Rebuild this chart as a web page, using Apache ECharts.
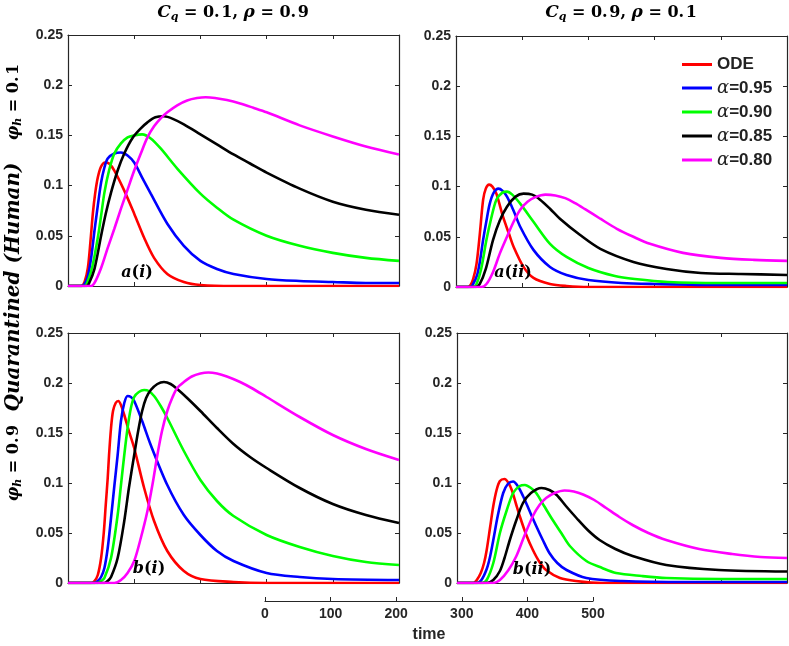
<!DOCTYPE html>
<html><head><meta charset="utf-8">
<script src="https://cdn.jsdelivr.net/npm/echarts@6/dist/echarts.min.js"></script>
<style>html,body{margin:0;padding:0;background:#fff}#c{width:789px;height:646px}</style>
</head><body><div id="c"></div>
<script>
// ---------- data (time, value) ----------
const seriesNames = ['ODE', 'α=0.95', 'α=0.90', 'α=0.85', 'α=0.80'];
const timeTicks = [0, 100, 200, 300, 400, 500];

// a(i): C_q=0.1, rho=0.9, phi_h=0.1
const ai_ode = [[0,0],[20,0],[25,0.004],[30,0.018],[34,0.045],[37.5,0.072],[41,0.092],[45,0.108],[50,0.119],[56,0.123],[62,0.122],[70,0.115],[85,0.095],[100,0.072],[115,0.048],[130,0.028],[150,0.012],[175,0.004],[200,0.001],[250,0],[500,0]];
const ai_095 = [[0,0],[20,0],[25,0.002],[30,0.01],[35,0.028],[40,0.055],[45,0.08],[50,0.103],[55,0.118],[60,0.127],[70,0.132],[80,0.133],[90,0.13],[100,0.123],[112,0.108],[125,0.092],[150,0.062],[175,0.04],[200,0.025],[225,0.017],[250,0.012],[300,0.007],[350,0.005],[400,0.004],[450,0.003],[500,0.003]];
const ai_090 = [[0,0],[25,0],[30,0.005],[37,0.02],[45,0.048],[50,0.07],[55,0.093],[62,0.115],[70,0.132],[80,0.142],[90,0.148],[100,0.15],[112,0.151],[125,0.147],[140,0.137],[165,0.117],[200,0.092],[225,0.078],[250,0.066],[300,0.05],[350,0.04],[400,0.033],[450,0.028],[500,0.025]];
const ai_085 = [[0,0],[28,0],[32,0.003],[40,0.017],[50,0.05],[57,0.072],[65,0.093],[75,0.115],[85,0.132],[97,0.147],[110,0.157],[120,0.163],[132,0.168],[145,0.169],[160,0.166],[175,0.161],[200,0.151],[225,0.141],[250,0.131],[275,0.122],[300,0.113],[350,0.097],[400,0.084],[450,0.076],[500,0.071]];
const ai_080 = [[0,0],[35,0],[40,0.003],[50,0.018],[60,0.038],[70,0.057],[80,0.077],[90,0.096],[100,0.115],[110,0.132],[120,0.148],[130,0.159],[140,0.167],[150,0.173],[165,0.18],[180,0.1848],[195,0.1872],[208,0.188],[222,0.1873],[240,0.1852],[260,0.1818],[280,0.1775],[300,0.173],[350,0.16],[400,0.149],[450,0.139],[500,0.131]];

// a(ii): C_q=0.9, rho=0.1, phi_h=0.1
const aii_ode = [[0,0],[18,0],[22,0.002],[26,0.008],[31,0.023],[36,0.053],[41,0.087],[45,0.098],[50,0.102],[55,0.1],[61,0.093],[71,0.07],[80,0.053],[87,0.04],[102,0.02],[117,0.009],[142,0.003],[167,0.001],[200,0],[500,0]];
const aii_095 = [[0,0],[22,0],[26,0.003],[32,0.012],[36,0.025],[41,0.047],[46,0.066],[51,0.083],[57,0.094],[64,0.098],[70,0.096],[77,0.09],[87,0.076],[97,0.06],[117,0.037],[142,0.02],[167,0.012],[200,0.007],[250,0.004],[300,0.003],[400,0.002],[500,0.002]];
const aii_090 = [[0,0],[26,0],[31,0.003],[38,0.018],[46,0.047],[53,0.068],[61,0.087],[70,0.094],[77,0.095],[85,0.092],[97,0.083],[117,0.065],[142,0.043],[167,0.03],[200,0.019],[240,0.011],[270,0.008],[320,0.005],[400,0.004],[500,0.004]];
const aii_085 = [[0,0],[30,0],[36,0.003],[45,0.018],[56,0.047],[66,0.066],[77,0.08],[90,0.09],[102,0.093],[115,0.092],[127,0.087],[142,0.078],[157,0.068],[187,0.052],[218,0.038],[268,0.025],[318,0.018],[370,0.014],[430,0.013],[500,0.012]];
const aii_080 = [[0,0],[38,0],[46,0.003],[56,0.015],[66,0.033],[77,0.05],[87,0.065],[97,0.077],[108,0.085],[120,0.0895],[135,0.092],[150,0.0912],[165,0.0885],[180,0.0835],[195,0.0775],[218,0.068],[243,0.058],[268,0.05],[293,0.043],[343,0.034],[400,0.029],[450,0.027],[500,0.026]];

// b(i): C_q=0.1, rho=0.9, phi_h=0.9
const bi_ode = [[0,0],[35,0],[40,0.002],[45,0.008],[50,0.025],[54,0.05],[57,0.078],[60,0.105],[62,0.128],[65,0.155],[68,0.172],[72,0.18],[76,0.182],[80,0.178],[85,0.168],[92,0.152],[100,0.135],[115,0.095],[130,0.062],[150,0.032],[175,0.012],[200,0.004],[250,0.001],[300,0],[500,0]];
const bi_095 = [[0,0],[40,0],[45,0.002],[50,0.006],[55,0.015],[60,0.035],[65,0.065],[70,0.097],[75,0.128],[80,0.162],[85,0.18],[90,0.187],[95,0.186],[100,0.182],[112,0.162],[125,0.138],[150,0.098],[175,0.068],[200,0.048],[225,0.032],[250,0.022],[300,0.01],[350,0.006],[400,0.004],[500,0.003]];
const bi_090 = [[0,0],[45,0],[50,0.002],[55,0.005],[65,0.025],[75,0.068],[80,0.098],[85,0.128],[90,0.155],[95,0.175],[100,0.186],[107,0.191],[115,0.193],[122,0.192],[130,0.187],[140,0.177],[150,0.165],[175,0.132],[200,0.103],[225,0.082],[250,0.067],[300,0.048],[350,0.036],[400,0.027],[450,0.021],[500,0.018]];
const bi_085 = [[0,0],[55,0],[60,0.002],[65,0.006],[75,0.025],[85,0.062],[92,0.095],[100,0.128],[106,0.152],[112,0.172],[118,0.185],[125,0.193],[135,0.199],[145,0.201],[155,0.199],[165,0.194],[180,0.185],[200,0.172],[225,0.155],[250,0.139],[275,0.126],[300,0.115],[350,0.095],[400,0.079],[450,0.068],[500,0.06]];
const bi_080 = [[0,0],[70,0],[80,0.003],[90,0.01],[100,0.022],[110,0.045],[120,0.072],[128,0.1],[135,0.128],[142,0.152],[150,0.172],[158,0.186],[165,0.195],[175,0.201],[187,0.2065],[200,0.2095],[212,0.2105],[225,0.2095],[240,0.2065],[260,0.201],[280,0.194],[300,0.186],[350,0.166],[400,0.148],[450,0.134],[500,0.123]];

// b(ii): C_q=0.9, rho=0.1, phi_h=0.9
const bii_ode = [[0,0],[25,0],[30,0.003],[36,0.01],[41,0.02],[45,0.033],[50,0.055],[55,0.077],[60,0.093],[65,0.102],[72,0.104],[78,0.1],[83,0.093],[89,0.08],[95,0.067],[105,0.048],[115,0.033],[125,0.021],[135,0.013],[156,0.005],[180,0.002],[220,0],[500,0]];
const bii_095 = [[0,0],[30,0],[37,0.003],[45,0.014],[50,0.026],[55,0.043],[62,0.068],[70,0.09],[77,0.099],[85,0.1015],[92,0.097],[100,0.087],[110,0.072],[120,0.057],[130,0.043],[140,0.03],[152,0.02],[166,0.013],[196,0.005],[250,0.002],[350,0.001],[500,0.001]];
const bii_090 = [[0,0],[38,0],[45,0.003],[55,0.02],[65,0.05],[75,0.072],[85,0.09],[95,0.097],[103,0.098],[112,0.095],[120,0.09],[132,0.077],[145,0.063],[158,0.05],[171,0.037],[196,0.022],[220,0.015],[241,0.01],[280,0.007],[317,0.005],[400,0.004],[500,0.004]];
const bii_085 = [[0,0],[45,0],[55,0.003],[65,0.012],[72,0.025],[80,0.043],[90,0.063],[100,0.08],[112,0.09],[128,0.095],[140,0.093],[151,0.088],[165,0.077],[181,0.065],[198,0.053],[216,0.043],[240,0.034],[266,0.027],[317,0.018],[397,0.013],[500,0.0115]];
const bii_080 = [[0,0],[55,0],[65,0.003],[78,0.013],[90,0.027],[102,0.047],[115,0.067],[125,0.078],[135,0.085],[148,0.09],[163,0.0925],[177,0.0915],[191,0.0885],[208,0.083],[226,0.075],[246,0.066],[266,0.058],[290,0.05],[317,0.043],[367,0.034],[417,0.029],[460,0.026],[500,0.025]];

const panelData = [
  [ai_ode, ai_095, ai_090, ai_085, ai_080],
  [aii_ode, aii_095, aii_090, aii_085, aii_080],
  [bi_ode, bi_095, bi_090, bi_085, bi_080],
  [bii_ode, bii_095, bii_090, bii_085, bii_080]
];
const colors = ['#ff0000', '#0000ff', '#00ff00', '#000000', '#ff00ff'];

// ---------- layout ----------
const AX = '#262626';
const grids = [
  {left: 68, top: 35, width: 331, height: 251},
  {left: 456, top: 36, width: 331, height: 251},
  {left: 68, top: 333, width: 331, height: 250},
  {left: 457, top: 333, width: 330, height: 250},
  {left: 265, top: 560, width: 328, height: 41}
];

const xAxes = [], yAxes = [], series = [];
function xAx(g, pos) {
  return {type: 'value', gridIndex: g, position: pos, min: 0, max: 500, interval: 100,
    axisLine: {show: true, onZero: false, lineStyle: {color: AX, width: 1.2}},
    axisTick: {show: true, inside: true, length: 4, lineStyle: {color: AX, width: 1}},
    axisLabel: {show: false}, splitLine: {show: false}};
}
function yAx(g, pos, labels) {
  return {type: 'value', gridIndex: g, position: pos, min: 0, max: 0.25, interval: 0.05,
    axisLine: {show: true, onZero: false, lineStyle: {color: AX, width: 1.2}},
    axisTick: {show: true, inside: true, length: 4, lineStyle: {color: AX, width: 1}},
    axisLabel: {show: labels, margin: 5, color: AX, fontFamily: 'Liberation Sans', fontWeight: 'bold', fontSize: 14},
    splitLine: {show: false}};
}
for (let p = 0; p < 4; p++) {
  xAxes.push(xAx(p, 'bottom'), xAx(p, 'top'));
  yAxes.push(yAx(p, 'left', true), yAx(p, 'right', false));
  panelData[p].forEach((d, k) => {
    series.push({type: 'line', name: seriesNames[k], xAxisIndex: 2 * p, yAxisIndex: 2 * p,
      data: d, symbol: 'none', showSymbol: false, smooth: 0.3, color: colors[k],
      lineStyle: {width: 2.6, color: colors[k]}, animation: false, z: 2 + k});
  });
}
// stand-alone time axis
xAxes.push({type: 'value', gridIndex: 4, position: 'bottom', min: timeTicks[0], max: timeTicks[timeTicks.length - 1], interval: 100,
  name: 'time', nameLocation: 'middle', nameGap: 26,
  nameTextStyle: {color: AX, fontFamily: 'Liberation Sans', fontWeight: 'bold', fontSize: 16},
  axisLine: {show: true, onZero: false, lineStyle: {color: AX, width: 1.2}},
  axisTick: {show: true, inside: true, length: 4, lineStyle: {color: AX}},
  axisLabel: {show: true, margin: 6, color: AX, fontFamily: 'Liberation Sans', fontWeight: 'bold', fontSize: 14},
  splitLine: {show: false}});
yAxes.push({type: 'value', gridIndex: 4, show: false, min: 0, max: 1});

const SERIF = 'DejaVu Serif';
const mrich = {
  i: {fontFamily: SERIF, fontStyle: 'italic', fontWeight: 'bold', fontSize: 16, color: '#111', lineHeight: 20},
  s: {fontFamily: SERIF, fontStyle: 'italic', fontWeight: 'bold', fontSize: 11, color: '#111', lineHeight: 20, padding: [9, 0, 0, 0]},
  n: {fontFamily: SERIF, fontWeight: 'bold', fontSize: 16, color: '#111', lineHeight: 20}
};
function mtext(x, y, text, rot, extra) {
  const r = JSON.parse(JSON.stringify(mrich));
  if (extra) Object.keys(r).forEach(k => Object.assign(r[k], extra[k] || {}));
  return {type: 'text', x: x, y: y, rotation: rot || 0, z: 100,
    style: {text: text, rich: r, align: 'center', verticalAlign: 'middle'}};
}
const lbl = {i: {fontSize: 16}, n: {fontSize: 16}, s: {fontSize: 11, padding: [9, 0, 0, 0]}};
const lblQ = {i: {fontSize: 20}, n: {fontSize: 20}};
const graphics = [
  mtext(233, 13, '{i|C}{s|q}{n| = 0.\u200a1, }{i|ρ}{n| = 0.\u200a9}', 0, {i: {fontSize: 17}, n: {fontSize: 16}}),
  mtext(621, 13, '{i|C}{s|q}{n| = 0.\u200a9, }{i|ρ}{n| = 0.\u200a1}', 0, {i: {fontSize: 17}, n: {fontSize: 16}}),
  mtext(14, 102, '{i|φ}{s|h}{n| = 0.\u200a1}', Math.PI / 2, lbl),
  mtext(14, 287, '{i|Quarantined (Human)}', Math.PI / 2, lblQ),
  mtext(14, 463, '{i|φ}{s|h}{n| = 0.\u200a9}', Math.PI / 2, lbl),
  mtext(137, 273, '{i|a}{n|(}{i|i}{n|)}'),
  mtext(513, 273, '{i|a}{n|(}{i|ii}{n|)}'),
  mtext(149, 569, '{i|b}{n|(}{i|i}{n|)}'),
  mtext(532, 570, '{i|b}{n|(}{i|ii}{n|)}')
];

const chart = echarts.init(document.getElementById('c'), null, {renderer: 'canvas'});
chart.setOption({
  animation: false,
  backgroundColor: '#fff',
  grid: grids,
  xAxis: xAxes,
  yAxis: yAxes,
  legend: {
    data: seriesNames, orient: 'vertical', left: 677, top: 51,
    icon: 'rect', itemWidth: 30, itemHeight: 3, itemGap: 6,
    formatter: n => n === 'ODE' ? '{b|ODE}' : '{a|α}{b|' + n.slice(1) + '}',
    textStyle: {rich: {
      a: {fontFamily: SERIF, fontStyle: 'italic', fontSize: 18, color: '#222', lineHeight: 18},
      b: {fontFamily: 'Liberation Sans', fontWeight: 'bold', fontSize: 17, color: '#222', lineHeight: 18}
    }}
  },
  series: series,
  graphic: graphics
});
</script>
</body></html>
